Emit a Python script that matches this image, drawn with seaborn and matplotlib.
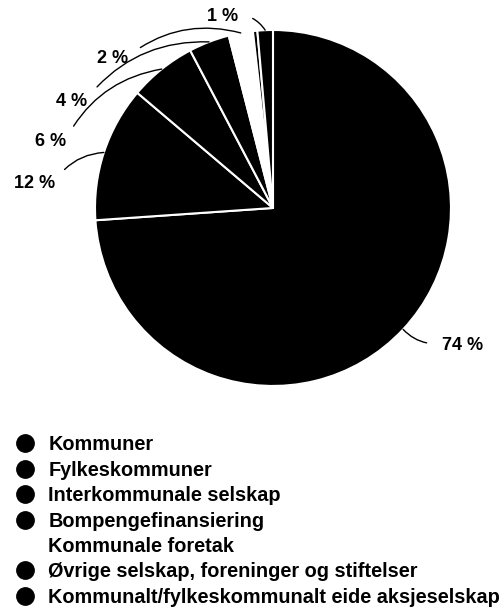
import matplotlib
matplotlib.use("Agg")
import matplotlib.pyplot as plt
from matplotlib.lines import Line2D
import numpy as np
import seaborn as sns

# data
categories = [
    "Kommuner",
    "Fylkeskommuner",
    "Interkommunale selskap",
    "Bompengefinansiering",
    "Kommunale foretak",
    "Øvrige selskap, foreninger og stiftelser",
    "Kommunalt/fylkeskommunalt eide aksjeselskap",
]
shares = [73.9, 12.3, 6.1, 3.7, 2.2, 0.4, 1.4]
colors = ["#000000", "#000000", "#000000", "#000000", "#ffffff", "#000000", "#000000"]

# label placement (pie radius = 1), None = no label
label_pos = [(0.949, -0.775), (-1.225, 0.135), (-1.163, 0.371), (-1.045, 0.601),
             (-0.815, 0.837), None, (-0.197, 1.073)]

sns.set_theme(style="white")
plt.rcParams["font.family"] = ["Liberation Sans", "DejaVu Sans"]
plt.rcParams["font.weight"] = "bold"
plt.rcParams["text.color"] = "black"

fig = plt.figure(figsize=(5.04, 6.09), dpi=100)
ax = fig.add_axes([0.1885, 0.3662, 0.7063, 0.5846])

wedges, _ = ax.pie(
    shares,
    colors=colors,
    startangle=90,
    counterclock=False,
    radius=1,
    wedgeprops={"edgecolor": "white", "linewidth": 1.5},
)
ax.set_xlim(-1, 1)
ax.set_ylim(-1, 1)
ax.set_aspect("equal")
ax.axis("off")

for w, v, pos in zip(wedges, shares, label_pos):
    if pos is None:
        continue
    mid = np.deg2rad((w.theta1 + w.theta2) / 2)
    pt = (np.cos(mid), np.sin(mid))
    right = pos[0] > 0
    ax.annotate(
        f"{round(v)} %",
        xy=pt,
        xytext=pos,
        ha="left" if right else "right",
        va="center",
        fontsize=13,
        fontweight="bold",
        color="black",
        annotation_clip=False,
        arrowprops={
            "arrowstyle": "-",
            "color": "black",
            "lw": 1.0,
            "connectionstyle": "arc3,rad=-0.25",
            "relpos": (0, 0.65) if right else (1, 0.65),
            "patchA": None,
            "shrinkA": 11,
            "shrinkB": 0,
        },
    )

handles = [
    Line2D([0], [0], marker="o", linestyle="none", markersize=12.5,
           markerfacecolor=c, markeredgecolor=c)
    for c in colors
]
leg = fig.legend(
    handles,
    categories,
    loc="upper left",
    bbox_to_anchor=(0.030, 0.285),
    frameon=False,
    prop={"size": 14.3, "weight": "bold"},
    handlelength=1.0,
    handletextpad=0.67,
    labelspacing=0.32,
    borderaxespad=0,
    borderpad=0,
)
for t in leg.get_texts():
    t.set_color("black")

fig.savefig("out.png", dpi=100)
